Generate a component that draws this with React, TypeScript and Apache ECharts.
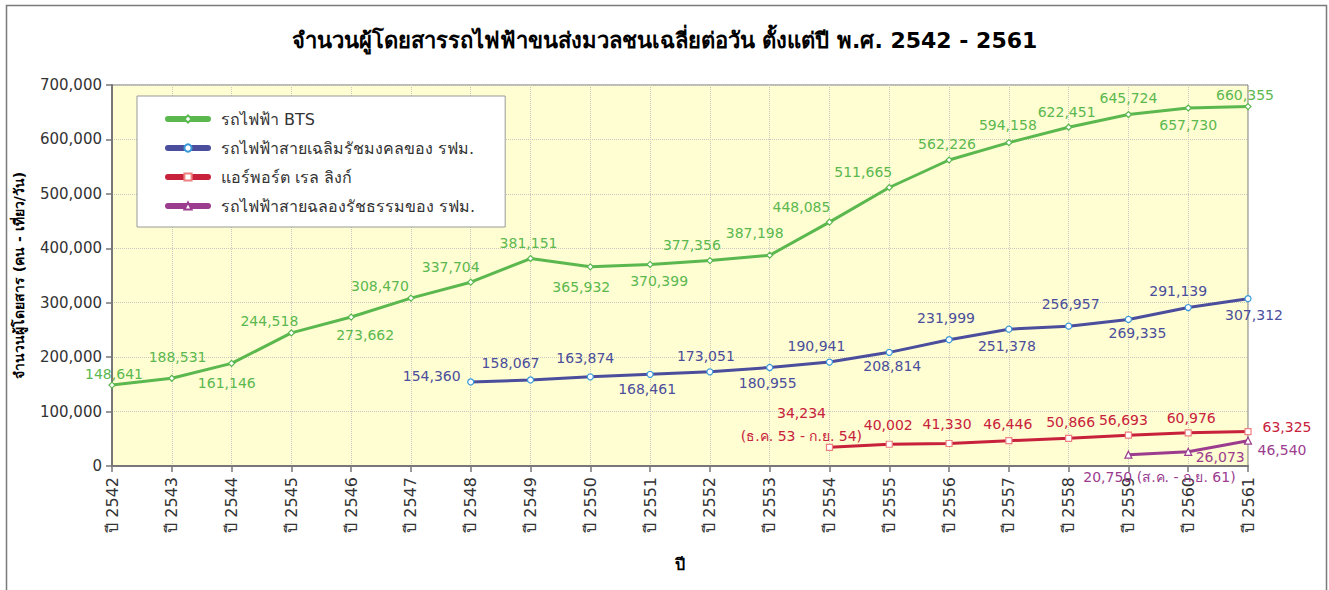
import React, { useEffect, useRef } from "react";
import * as echarts from "echarts";

const years = ["2542","2543","2544","2545","2546","2547","2548","2549","2550","2551","2552","2553","2554","2555","2556","2557","2558","2559","2560","2561"];
const categories = years.map((y) => `ปี ${y}`);

const seriesNames = [
  "รถไฟฟ้า BTS",
  "รถไฟฟ้าสายเฉลิมรัชมงคลของ รฟม.",
  "แอร์พอร์ต เรล ลิงก์",
  "รถไฟฟ้าสายฉลองรัชธรรมของ รฟม.",
];

const btsValues = [148641,161146,188531,244518,273662,308470,337704,381151,365932,370399,377356,387198,448085,511665,562226,594158,622451,645724,657730,660355];
const blueValues = [null,null,null,null,null,null,154360,158067,163874,168461,173051,180955,190941,208814,231999,251378,256957,269335,291139,307312];
const arlValues = [null,null,null,null,null,null,null,null,null,null,null,null,34234,40002,41330,46446,50866,56693,60976,63325];
const purpleValues = [null,null,null,null,null,null,null,null,null,null,null,null,null,null,null,null,null,20750,26073,46540];

const arlNotes: Record<number, string> = { 12: "\n(ธ.ค. 53 - ก.ย. 54)" };
const purpleNotes: Record<number, string> = { 17: " (ส.ค. - ก.ย. 61)" };

const yTicks = [0, 100000, 200000, 300000, 400000, 500000, 600000, 700000];

// label offsets (layout only)
const btsOffsets: number[][] = [[2,-11],[55,5],[-54,-6],[-22,-12],[14,18],[-31,-12],[-20,-15],[-2,-16],[-9,20],[9,17],[-18,-16],[-15,-22],[-28,-15],[-26,-16],[-2,-16],[-1,-18],[-2,-15],[0,-17],[0,17],[-3,-12]];
const blueOffsets: number[][] = [[],[],[],[],[],[],[-39,-6],[-20,-17],[-5,-19],[-3,15],[-4,-16],[-2,15],[-13,-16],[3,14],[-3,-22],[-2,17],[2,-22],[9,14],[-10,-17],[6,16]];
const arlOffsets: number[][] = [[],[],[],[],[],[],[],[],[],[],[],[],[-28,-23],[-1,-19],[-2,-20],[-1,-17],[2,-16],[-5,-15],[3,-15],[39,-5]];
const purpleOffsets: number[][] = [[],[],[],[],[],[],[],[],[],[],[],[],[],[],[],[],[],[31,22],[32,5],[34,9]];

const FONT = "Tahoma, 'DejaVu Sans', 'Noto Sans', sans-serif";
const fmt = (v: number) => v.toLocaleString("en-US");

function buildData(values: (number | null)[], offsets: number[][], notes: Record<number, string> = {}) {
  return values.map((v, i) =>
    v == null
      ? null
      : {
          value: v,
          label: {
            offset: offsets[i],
            formatter: () => fmt(v) + (notes[i] || ""),
          },
        }
  );
}

export default function App() {
  const ref = useRef<HTMLDivElement>(null);
  useEffect(() => {
    if (!ref.current) return;
    const chart = echarts.init(ref.current, undefined, { renderer: "svg" });
    const mk = (
      name: string,
      values: (number | null)[],
      offsets: number[][],
      color: string,
      symbol: string,
      symbolSize: number,
      borderColor: string,
      notes: Record<number, string> = {}
    ) => ({
      name,
      type: "line",
      data: buildData(values, offsets, notes),
      connectNulls: false,
      symbol,
      symbolSize,
      showAllSymbol: true,
      lineStyle: { color, width: 3 },
      itemStyle: { color: "#ffffff", borderColor, borderWidth: 1.2 },
      label: {
        show: true,
        position: "inside",
        color,
        fontSize: 14,
        fontFamily: FONT,
        lineHeight: 23,
        align: "center",
      },
      z: 3,
    });

    chart.setOption({
      animation: false,
      backgroundColor: "#ffffff",
      title: {
        text: "จำนวนผู้โดยสารรถไฟฟ้าขนส่งมวลชนเฉลี่ยต่อวัน ตั้งแต่ปี พ.ศ. 2542 - 2561",
        left: "center",
        top: 24,
        textStyle: { fontSize: 22, fontWeight: "bold", color: "#000", fontFamily: FONT },
      },
      graphic: [
        {
          type: "rect",
          shape: { x: 6.5, y: 5.5, width: 1320, height: 600 },
          style: { fill: "none", stroke: "#7a7a7a", lineWidth: 1.5 },
          silent: true,
        },
      ],
      legend: {
        orient: "vertical",
        left: 137,
        top: 96,
        padding: [15, 30, 13, 28],
        backgroundColor: "#ffffff",
        borderColor: "#999",
        borderWidth: 1,
        itemWidth: 40,
        itemHeight: 9,
        itemGap: 13,
        lineStyle: { width: 6, cap: "round" },
        textStyle: { fontSize: 16, color: "#333", fontFamily: FONT, padding: [0, 0, 0, 8] },
        data: seriesNames,
      },
      grid: {
        left: 112,
        right: 81,
        top: 85,
        bottom: 124,
        show: true,
        backgroundColor: "#FFFDD2",
        borderColor: "#777",
        borderWidth: 1,
      },
      xAxis: {
        type: "category",
        data: categories,
        boundaryGap: false,
        name: "ปี",
        nameLocation: "middle",
        nameGap: 90,
        nameTextStyle: { fontSize: 16, fontWeight: "bold", color: "#000", fontFamily: FONT },
        axisLine: { lineStyle: { color: "#777", width: 2 } },
        axisTick: { show: true, length: 6, lineStyle: { color: "#777", width: 1.5 } },
        axisLabel: { rotate: 90, fontSize: 16, color: "#333", fontFamily: FONT, margin: 11, interval: 0 },
        splitLine: { show: true, lineStyle: { color: "#c8c8c0", type: "dotted", width: 1 } },
      },
      yAxis: {
        type: "value",
        min: yTicks[0],
        max: yTicks[yTicks.length - 1],
        interval: 100000,
        name: "จำนวนผู้โดยสาร (คน - เที่ยว/วัน)",
        nameLocation: "middle",
        nameGap: 86,
        nameTextStyle: { fontSize: 14, fontWeight: "bold", color: "#000", fontFamily: FONT },
        axisLine: { show: true, lineStyle: { color: "#777", width: 2 } },
        axisTick: { show: true, length: 6, lineStyle: { color: "#777", width: 1.5 } },
        axisLabel: { fontSize: 15, color: "#333", fontFamily: FONT, margin: 10, formatter: (v: number) => fmt(v) },
        splitLine: { show: true, lineStyle: { color: "#c8c8c0", type: "dotted", width: 1 } },
      },
      series: [
        mk(seriesNames[0], btsValues, btsOffsets, "#5BB84F", "diamond", 6, "#5BB84F"),
        mk(seriesNames[1], blueValues, blueOffsets, "#4A4E9C", "circle", 6, "#3A9AD9"),
        mk(seriesNames[2], arlValues, arlOffsets, "#C8213B", "rect", 6, "#EE8080", arlNotes),
        mk(seriesNames[3], purpleValues, purpleOffsets, "#9B3C8E", "triangle", 7, "#9B3C8E", purpleNotes),
      ],
    });
    return () => chart.dispose();
  }, []);
  return (
    <div
      ref={ref}
      style={{ position: "fixed", left: 0, top: 0, width: 1329, height: 590 }}
    />
  );
}
